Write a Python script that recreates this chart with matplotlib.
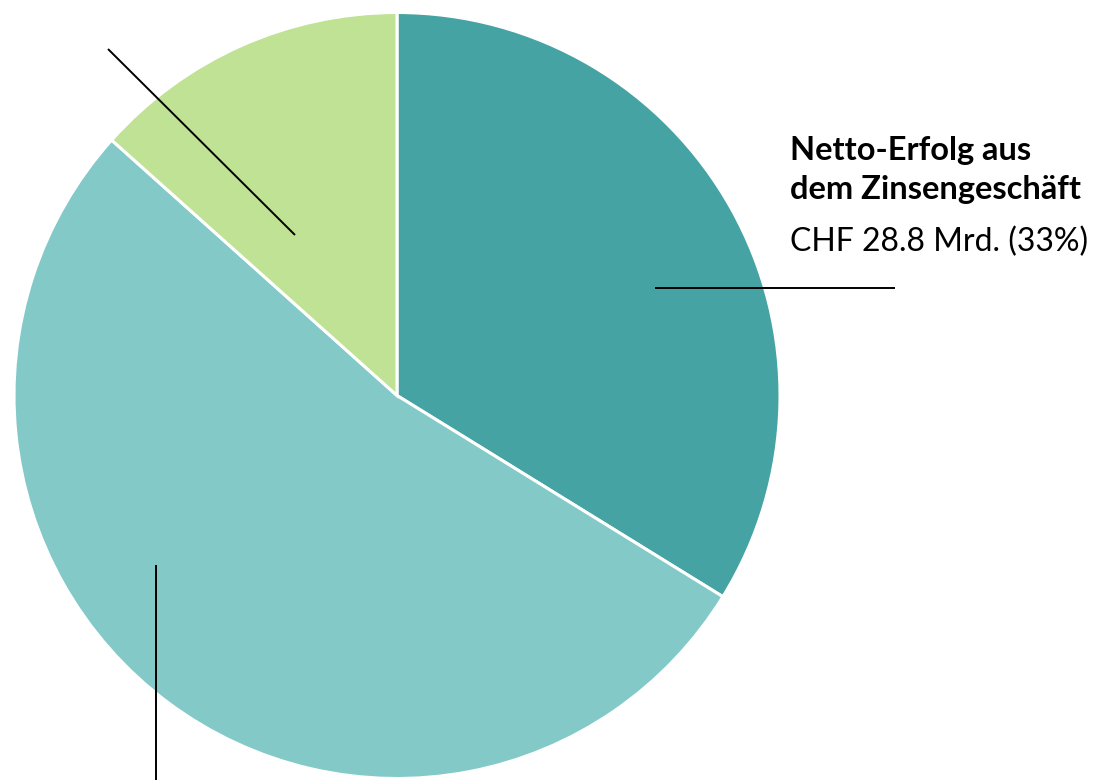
import matplotlib
matplotlib.use("Agg")
import matplotlib.pyplot as plt

# Data
labels = ["Netto-Erfolg aus dem Zinsengeschäft", "Übrige", "Weitere"]
values = [28.8, 45.0, 11.4]
colors = ["#46A3A3", "#82C9C8", "#BFE294"]
title_lines = ["Netto-Erfolg aus", "dem Zinsengeschäft"]
value_text = "CHF 28.8 Mrd. (33%)"

W, H = 1095, 780
fig = plt.figure(figsize=(W / 100, H / 100), dpi=100)
ax = fig.add_axes([0, 0, 1, 1])
ax.set_xlim(0, W)
ax.set_ylim(0, H)
ax.set_aspect("equal")
ax.axis("off")

cx, cy_pix, r = 397, 395.5, 383
ax.pie(values, colors=colors, startangle=90, counterclock=False,
       center=(cx, H - cy_pix), radius=r, frame=True,
       wedgeprops=dict(edgecolor="white", linewidth=2.2))
ax.set_xlim(0, W)
ax.set_ylim(0, H)
ax.axis("off")

def pline(x0, y0, x1, y1):
    ax.plot([x0, x1], [H - y0, H - y1], color="black", lw=1.4,
            solid_capstyle="butt", clip_on=False)

pline(655, 288, 895, 288)
pline(108, 49, 295, 235)
pline(156, 565, 156, 782)

fam = ["Lato", "DejaVu Sans"]
ax.text(790, H - 160, title_lines[0], fontsize=23.5, fontweight="bold",
        family=fam, va="baseline", ha="left")
ax.text(790, H - 199, title_lines[1], fontsize=23.5, fontweight="bold",
        family=fam, va="baseline", ha="left")
ax.text(790, H - 251, value_text, fontsize=23, family=fam,
        va="baseline", ha="left")

fig.savefig("out.png", dpi=100)
